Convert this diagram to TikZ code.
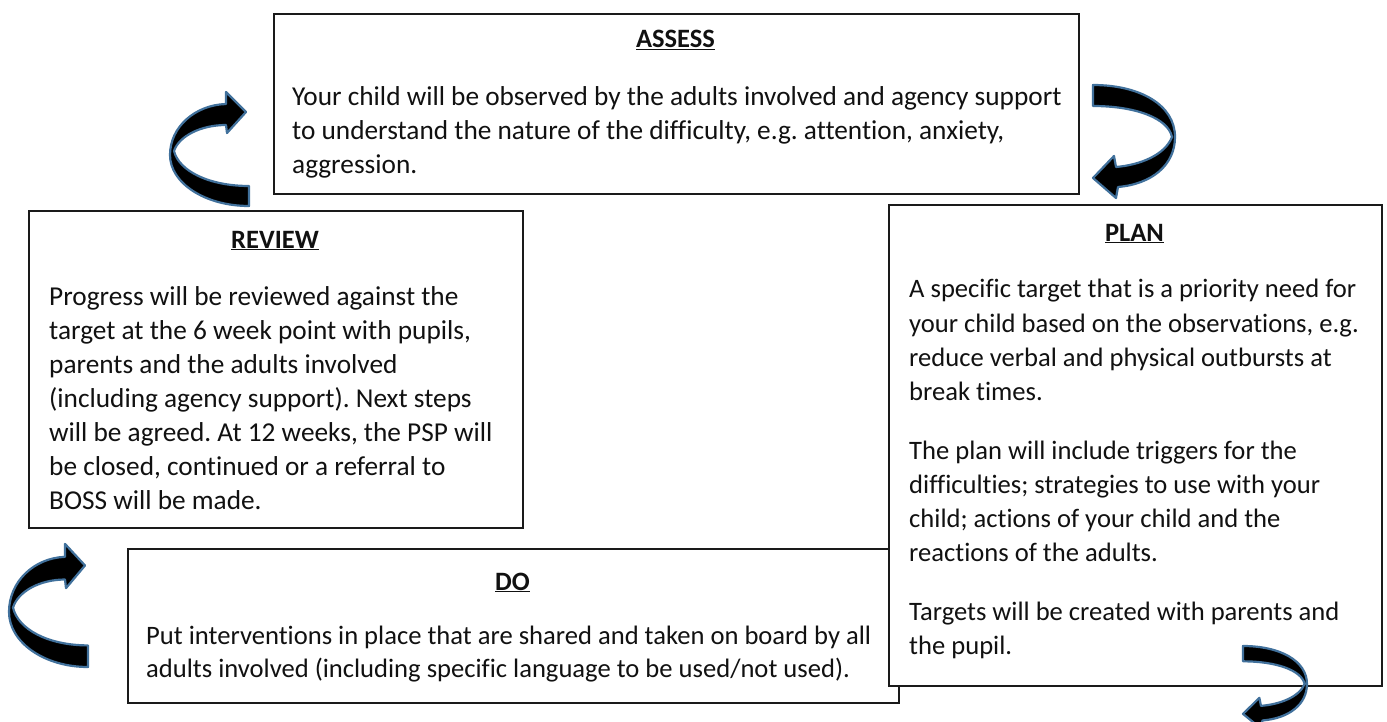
\documentclass[tikz,border=0pt]{standalone}
\usepackage{fontspec}
\setmainfont{Carlito}[Ligatures={NoCommon}]
\frenchspacing
\definecolor{arrowline}{HTML}{41719C}
\definecolor{boxline}{HTML}{1A1A1A}
\definecolor{ink}{HTML}{111111}
\tikzset{
  box/.style={draw=boxline, line width=2pt, fill=white, rectangle, inner sep=0pt, anchor=north west},
  headtext/.style={font=\fontsize{26.5}{34}\selectfont\bfseries, text=ink, anchor=base, inner sep=0pt},
  bodytext/.style={font=\fontsize{27.3}{34}\selectfont, text=ink, anchor=base west, inner sep=0pt},
  dotext/.style={bodytext, font=\fontsize{26.6}{34}\selectfont},
  blockarrow/.style={fill=black, draw=arrowline, line width=2.2pt, line join=round},
}
\begin{document}
\begin{tikzpicture}[x=1pt, y=-1pt]
\useasboundingbox (0,0) rectangle (1387,722);
\fill[white] (0,0) rectangle (1387,722);

% ---------- boxes ----------
\node[box, minimum width=805pt, minimum height=180pt] (assess) at (273,13) {};
\node[box, minimum width=494pt, minimum height=317pt] (review) at (28,210) {};
\node[box, minimum width=771pt, minimum height=154pt] (do) at (127,548) {};
\node[box, minimum width=493pt, minimum height=481pt] (plan) at (888,204) {};

% ---------- ASSESS ----------
\node[headtext] (assessH) at (675.5,48) {\underline{ASSESS}};
\foreach \t [count=\i] in {
  {Your child will be observed by the adults involved and agency support},
  {to understand the nature of the difficulty, e.g. attention, anxiety,},
  {aggression.}}
  \node[bodytext] (assessL\i) at (292,{106+(\i-1)*34}) {\t};

% ---------- REVIEW ----------
\node[headtext] (reviewH) at (275,248) {\underline{REVIEW}};
\foreach \t [count=\i] in {
  {Progress will be reviewed against the},
  {target at the 6 week point with pupils,},
  {parents and the adults involved},
  {(including agency support). Next steps},
  {will be agreed. At 12 weeks, the PSP will},
  {be closed, continued or a referral to},
  {BOSS will be made.}}
  \node[bodytext] (reviewL\i) at (49,{305+(\i-1)*34}) {\t};

% ---------- DO ----------
\node[headtext] (doH) at (512.5,590) {\underline{DO}};
\foreach \t [count=\i] in {
  {Put interventions in place that are shared and taken on board by all},
  {adults involved (including specific language to be used/not used).}}
  \node[dotext] (doL\i) at (146,{644+(\i-1)*33}) {\t};

% ---------- PLAN ----------
\node[headtext] (planH) at (1134.5,241) {\underline{PLAN}};
\foreach \t [count=\i] in {
  {A specific target that is a priority need for},
  {your child based on the observations, e.g.},
  {reduce verbal and physical outbursts at},
  {break times.}}
  \node[dotext] (planA\i) at (909,{298+(\i-1)*34}) {\t};
\foreach \t [count=\i] in {
  {The plan will include triggers for the},
  {difficulties; strategies to use with your},
  {child; actions of your child and the},
  {reactions of the adults.}}
  \node[dotext] (planB\i) at (909,{459+(\i-1)*34}) {\t};
\foreach \t [count=\i] in {
  {Targets will be created with parents and},
  {the pupil.}}
  \node[dotext] (planC\i) at (909,{620+(\i-1)*34}) {\t};

% ---------- curved block arrows ----------
% A: review -> assess (top left)
\begin{scope}[shift={(249,206)}]
\filldraw[blockarrow] (0,0) .. controls (-44,0) and (-79,-23) .. (-79,-51)
  .. controls (-79,-79) and (-54,-101) .. (-23,-102)
  -- (-23,-114) -- (-3,-94) -- (-22,-73) -- (-23,-81)
  .. controls (-48,-81) and (-70,-70) .. (-75,-55)
  .. controls (-70,-35) and (-40,-20) .. (0,-20) -- cycle;
\end{scope}
% C: bottom left
\begin{scope}[shift={(88,667)}, yscale=1.08]
\filldraw[blockarrow] (0,0) .. controls (-44,0) and (-79,-23) .. (-79,-51)
  .. controls (-79,-79) and (-54,-101) .. (-23,-102)
  -- (-23,-114) -- (-3,-94) -- (-22,-73) -- (-23,-81)
  .. controls (-48,-81) and (-70,-70) .. (-75,-55)
  .. controls (-70,-35) and (-40,-20) .. (0,-20) -- cycle;
\end{scope}
% B: assess -> plan (top right)
\begin{scope}[shift={(1093,85)}]
\filldraw[blockarrow] (0,0) .. controls (47,0) and (82,20) .. (82,52)
  .. controls (82,80) and (59,99) .. (25,102)
  -- (23,113) -- (0,93) -- (21,71) -- (23,82)
  .. controls (47,80) and (72,70) .. (79,52)
  .. controls (75,33) and (42,21) .. (0,21) -- cycle;
\end{scope}
% D: bottom right
\begin{scope}[shift={(1243,646)}, xscale=0.78, yscale=0.73]
\filldraw[blockarrow] (0,0) .. controls (47,0) and (82,20) .. (82,52)
  .. controls (82,80) and (59,99) .. (25,102)
  -- (23,113) -- (0,93) -- (21,71) -- (23,82)
  .. controls (47,80) and (72,70) .. (79,52)
  .. controls (75,33) and (42,21) .. (0,21) -- cycle;
\end{scope}
\end{tikzpicture}
\end{document}
